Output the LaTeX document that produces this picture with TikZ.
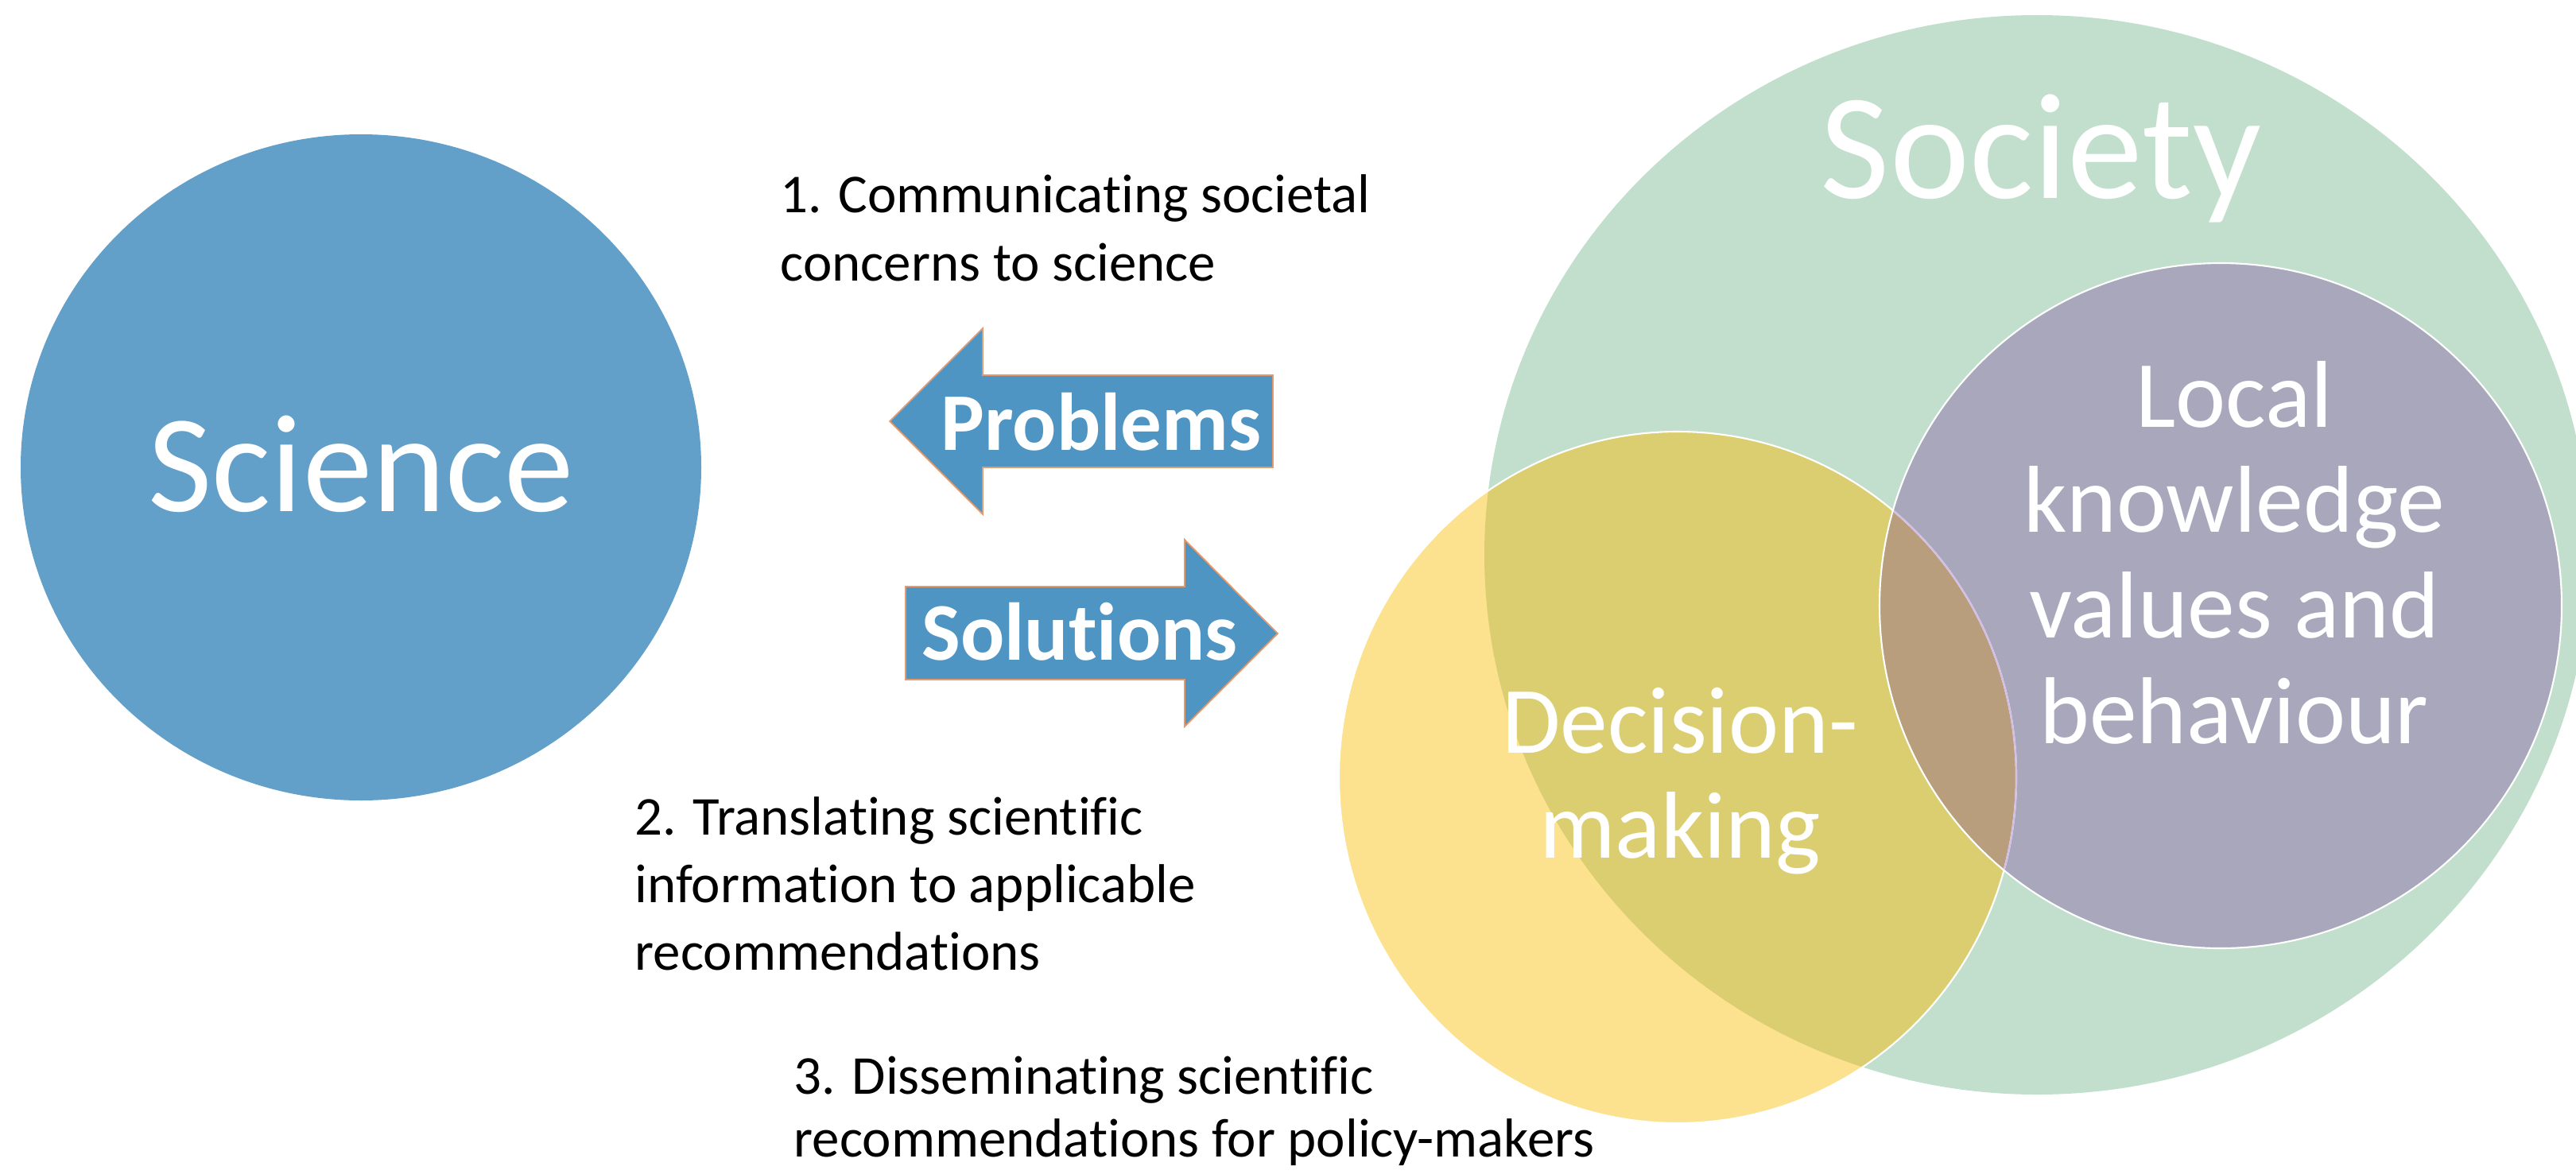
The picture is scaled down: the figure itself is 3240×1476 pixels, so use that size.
\documentclass[tikz,border=0pt]{standalone}
\usepackage{fontspec}
\setmainfont{Carlito}[Ligatures=NoCommon]
\definecolor{sciblue}{HTML}{62A0CA}
\definecolor{arrblue}{HTML}{4E95C4}
\definecolor{arredge}{HTML}{E39A6C}
\definecolor{socgreen}{HTML}{C1DFCC}
\definecolor{decyellow}{HTML}{FCE18F}
\definecolor{ygmix}{HTML}{DBCE71}
\definecolor{lkpurple}{HTML}{A8A7BC}
\definecolor{brownmix}{HTML}{B99E7E}
\definecolor{lavline}{HTML}{D3BEE6}
\begin{document}
\begin{tikzpicture}[x=0.01cm,y=-0.01cm,
  blacklbl/.style={font=\fontsize{19.6}{24.2}\selectfont, inner sep=0pt, anchor=base west, text=black},
  arrlbl/.style={font=\bfseries\fontsize{29.3}{34}\selectfont, inner sep=0pt, anchor=base, text=white},
  biglbl/.style={font=\fontsize{34}{37.8}\selectfont, inner sep=0pt, anchor=base, text=white},
  arrowshape/.style={fill=arrblue, draw=arredge, line width=0.5pt, line join=miter},
  rim/.style={draw=white, line width=0.6pt}]
\useasboundingbox (0,0) rectangle (3240,1476);

% Science
\fill[sciblue] (454,588) ellipse [x radius=428, y radius=419];
\node[font=\fontsize{49.8}{56}\selectfont, text=white, inner sep=0pt, anchor=base] (science) at (454,643) {Science};

% arrows
\draw[arrowshape] (1119,530) -- (1236,413) -- (1236,472) -- (1601,472) -- (1601,588) -- (1236,588) -- (1236,647) -- cycle;
\node[arrlbl] (problems) at (1385,566) {Problems};
\draw[arrowshape] (1139,738) -- (1490,738) -- (1490,679) -- (1607,797) -- (1490,914) -- (1490,855) -- (1139,855) -- cycle;
\node[arrlbl] (solutions) at (1358,830) {Solutions};

% Venn
\fill[socgreen] (2562,698) ellipse [x radius=695, y radius=679];
\fill[lkpurple] (2793,762) ellipse [x radius=429, y radius=431];
\fill[decyellow] (2110,978) ellipse [x radius=426, y radius=435];
\begin{scope}
  \clip (2110,978) ellipse [x radius=426, y radius=435];
  \fill[ygmix] (2562,698) ellipse [x radius=695, y radius=679];
  \clip (2793,762) ellipse [x radius=429, y radius=431];
  \fill[brownmix] (2793,762) ellipse [x radius=429, y radius=431];
\end{scope}
\draw[rim] (2110,978) ellipse [x radius=426, y radius=435];
\begin{scope}
  \clip (2793,762) ellipse [x radius=429, y radius=431];
  \draw[draw=lavline, line width=0.6pt] (2110,978) ellipse [x radius=426, y radius=435];
\end{scope}
\draw[rim] (2793,762) ellipse [x radius=429, y radius=431];

\node[font=\fontsize{54}{60}\selectfont, text=white, inner sep=0pt, anchor=base] (society) at (2567,249) {Society};
\node[biglbl] (local) at (2810,537) {\vtop{\halign{\hfil#\hfil\cr Local\cr knowledge\cr values and\cr behaviour\cr}}};
\node[biglbl] (decision) at (2113,947) {\vtop{\halign{\hfil#\hfil\cr Decision-\cr making\cr}}};

% black labels
\node[blacklbl] (t1) at (981,268) {\vtop{\hbox{1. Communicating societal}\hbox{concerns to science}}};
\node[blacklbl] (t2) at (798,1050) {\vtop{\hbox{2. Translating scientific}\hbox{information to applicable}\hbox{recommendations}}};
\node[blacklbl] (t3) at (998,1376) {\vtop{\baselineskip=22.5pt\hbox{3. Disseminating scientific}\hbox{recommendations for policy-makers}}};
\end{tikzpicture}
\end{document}
